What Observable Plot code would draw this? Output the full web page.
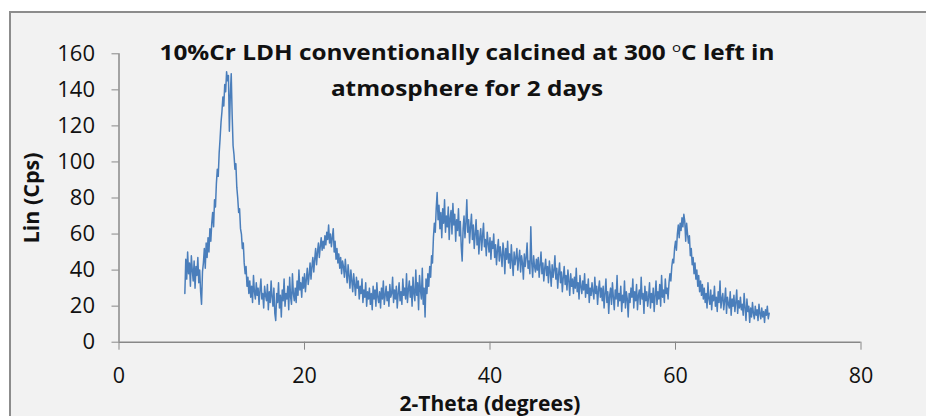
<!DOCTYPE html>
<html>
<head>
<meta charset="utf-8">
<script src="https://cdn.jsdelivr.net/npm/d3@7"></script>
<script src="https://cdn.jsdelivr.net/npm/@observablehq/plot@0.6"></script>
<style>
  html, body { margin: 0; padding: 0; background: #ffffff; }
  #chart { position: relative; width: 926px; height: 416px; overflow: hidden; background: #ffffff; font-family: "Open Sans", sans-serif; }
  #frame { position: absolute; left: 9px; top: 11px; width: 960px; height: 460px; border: 2px solid #8c8c8c; background: #f2f2f2; }
  #chart svg { position: absolute; left: 0; top: 0; }
</style>
</head>
<body>
<div id="chart"><div id="frame"></div></div>
<script>
// XRD scan of 10%Cr LDH, intensity (Cps) sampled every 0.1 degree 2-theta.
const stepAngle = 0.1;

// Each region of the scan: first 2-theta angle and its counts.
const region1Start = 7.1;   // low-angle shoulder
const region1 = [27, 46, 35, 50, 38, 44, 31, 48, 40, 34, 45, 30, 42, 37, 47, 33, 40, 28, 21, 39];
const region2Start = 9.1;   // rise of the (003) reflection
const region2 = [44, 52, 41, 55, 47, 58, 50, 63, 56, 66, 72, 64, 79, 75, 88, 96, 92, 105, 113];
const region3Start = 11.0;  // (003) maximum
const region3 = [122, 128, 136, 131, 143, 139, 150, 145, 148, 117, 137, 149, 126, 109];
const region4Start = 12.4;  // fall of the (003) reflection
const region4 = [104, 96, 99, 86, 80, 72, 74, 63, 60, 52, 55, 44, 38, 42, 31, 36, 27];
const region5Start = 14.1;  // background between peaks
const region5 = [
  34, 25, 31, 22, 37, 28, 24, 33, 26, 30,
  21, 29, 35, 24, 27, 19, 31, 26, 23, 32,
  18, 28, 22, 34, 25, 20, 30, 16, 12, 27,
  22, 33, 19, 26, 14, 29, 23, 35, 20, 27,
  24, 31, 18, 36, 25, 21, 38, 27, 23, 30,
  22, 34, 26, 40, 29
];
const region6Start = 19.6;  // rise of the (006) reflection
const region6 = [33, 25, 36, 30, 38, 28, 35, 41, 32, 37, 44, 35, 42, 47, 39, 46, 52, 43, 50, 55, 47, 53, 58, 51, 56];
const region7Start = 22.1;  // (006) maximum
const region7 = [52, 59, 54, 61, 57, 65, 55, 60, 53, 58, 63, 50, 56, 46, 52];
const region8Start = 23.6;  // fall of the (006) reflection
const region8 = [44, 49, 41, 47, 38, 45, 42, 36, 46, 39, 33, 43, 37, 30, 40, 34, 28, 38, 32, 26, 36, 30, 34, 24, 31, 27, 35, 22, 29, 25, 33, 20, 28, 24, 30];
const region9Start = 27.1;  // background before the broad band
const region9 = [
  21, 27, 18, 31, 24, 29, 20, 33, 25, 22,
  28, 19, 30, 24, 34, 21, 26, 31, 23, 28,
  20, 32, 25, 27, 36, 22, 29, 24, 31, 19,
  27, 33, 23, 28, 21, 35, 26, 30, 24, 38,
  22, 29, 34, 25, 31, 20, 36, 27, 23, 40,
  26, 33, 18, 37, 29, 24, 41, 21, 30, 14,
  35, 27, 38, 31, 42
];
const region10Start = 33.6; // steep edge of the broad band
const region10 = [36, 48, 44, 58, 66, 61, 74, 83];
const region11Start = 34.4; // top of the broad band
const region11 = [68, 76, 63, 72, 58, 74, 66, 79, 61, 70, 64, 75, 57, 69, 73, 60, 77, 65, 71, 56, 68, 62, 74, 59, 67, 53, 45, 63, 70, 58, 66, 79, 61, 68, 55, 64, 71];
const region12Start = 38.1; // slow decay of the band
const region12 = [
  57, 65, 52, 60, 68, 54, 62, 49, 58, 63,
  51, 59, 66, 53, 57, 48, 61, 55, 50, 58,
  46, 56, 52, 60, 47, 54, 43, 51, 57, 45,
  53, 48, 42, 55, 50, 38, 52, 46, 56, 44,
  49, 41, 54, 45, 37, 50, 43, 47, 52, 40,
  46, 51, 39, 48, 44, 35, 49, 42, 47, 55,
  41, 45, 38, 64, 44, 36, 48, 42, 39, 46
];
const region13Start = 45.1;
const region13 = [
  40, 47, 36, 43, 50, 38, 44, 34, 41, 46,
  37, 42, 33, 45, 39, 31, 43, 36, 40, 48,
  35, 41, 30, 38, 44, 33, 39, 28, 36, 42,
  32, 37, 29, 40, 34, 26, 38, 31, 35, 27,
  36, 30, 41, 28, 33, 24, 37, 31, 27, 34,
  29, 38, 25, 32, 27, 35, 22, 30, 26, 33,
  28, 24, 36, 27, 31, 21, 29, 34, 25, 30
];
const region14Start = 52.1; // flat background
const region14 = [
  23, 31, 19, 27, 35, 22, 28, 16, 26, 30,
  21, 33, 25, 18, 29, 24, 37, 20, 27, 23,
  31, 17, 26, 22, 34, 19, 28, 24, 14, 27,
  22, 30, 25, 35, 19, 28, 23, 32, 18, 26,
  29, 21, 36, 24, 27, 16, 31, 23, 28, 20,
  25, 33, 19, 27, 22, 30, 17, 26, 34, 21,
  28, 24, 32, 20, 37, 25, 29, 22, 35, 27,
  30, 24, 33
];
const region15Start = 59.4; // rise of the (110) reflection
const region15 = [38, 34, 42, 46, 44, 52, 56, 51, 60, 65, 58, 66];
const region16Start = 60.6; // (110) maximum
const region16 = [62, 69, 64, 71, 67, 56, 66, 60];
const region17Start = 61.4; // fall of the (110) reflection
const region17 = [55, 59, 48, 52, 43, 47, 38, 44, 35, 40, 31, 37, 28, 34, 26, 32, 24];
const region18Start = 63.1; // high-angle tail
const region18 = [
  30, 22, 27, 19, 33, 24, 21, 29, 18, 26,
  23, 31, 20, 25, 17, 28, 22, 34, 19, 24,
  27, 18, 23, 30, 16, 25, 21, 19, 28, 15,
  24, 20, 26, 17, 22, 29, 16, 23, 19, 25,
  18, 21, 15, 27, 19, 12, 24, 17, 20, 11,
  19, 14, 22, 16, 13, 20, 15, 18, 12, 21,
  16, 13, 19, 14, 17, 11, 18, 15, 20, 13, 16
];

const xTicks = [0, 20, 40, 60, 80];
const yTicks = [0, 20, 40, 60, 80, 100, 120, 140, 160];

const regions = [
  [region1Start, region1], [region2Start, region2], [region3Start, region3],
  [region4Start, region4], [region5Start, region5], [region6Start, region6],
  [region7Start, region7], [region8Start, region8], [region9Start, region9],
  [region10Start, region10], [region11Start, region11], [region12Start, region12],
  [region13Start, region13], [region14Start, region14], [region15Start, region15],
  [region16Start, region16], [region17Start, region17], [region18Start, region18]
];

// Flatten into {angle, counts} rows for the line mark.
const scan = regions.flatMap(([start, counts]) =>
  counts.map((c, i) => ({angle: +(start + i * stepAngle).toFixed(2), counts: c}))
);

const axisGray = "#888888";
const lineBlue = "#4a7ebb";

const chart = Plot.plot({
  width: 926,
  height: 416,
  marginLeft: 118.5,
  marginRight: 65.5,
  marginTop: 53.3,
  marginBottom: 74.3,
  style: {background: "transparent", fontFamily: "'Open Sans', sans-serif", fontSize: "22px", color: "#111", overflow: "visible"},
  x: {domain: [0, 80]},
  y: {domain: [0, 160]},
  marks: [
    Plot.ruleY([0], {stroke: axisGray, strokeWidth: 1.5}),
    Plot.ruleX([0], {stroke: axisGray, strokeWidth: 1.5}),
    Plot.axisX(xTicks, {tickSize: 8, tickPadding: 18, stroke: axisGray, fill: "#111", label: null, fontSize: 21.5}),
    Plot.axisY(yTicks, {tickSize: 7, tickPadding: 17, stroke: axisGray, fill: "#111", label: null, fontSize: 22}),
    Plot.line(scan, {x: "angle", y: "counts", stroke: lineBlue, strokeWidth: 1.5, strokeLinejoin: "round"}),
    Plot.text(["2-Theta (degrees)"], {frameAnchor: "bottom", dy: 68.5, lineAnchor: "bottom", textAnchor: "middle", fontWeight: "bold", fontSize: 21, fill: "#111"}),
    Plot.text(["Lin (Cps)"], {frameAnchor: "left", dx: -80, rotate: -90, lineAnchor: "bottom", textAnchor: "middle", fontWeight: "bold", fontSize: 21.5, fill: "#111"})
  ]
});

document.getElementById("chart").appendChild(chart);

// Two-line title with a superscript "o" in the temperature unit.
const svg = d3.select(chart);
const title = svg.append("g")
  .attr("transform", "translate(467,0) scale(1.16,1)")
  .attr("font-family", "'Open Sans', sans-serif")
  .attr("font-weight", "bold")
  .attr("font-size", 21)
  .attr("fill", "#111")
  .attr("text-anchor", "middle");
const line1 = title.append("text").attr("x", 0).attr("y", 60);
line1.append("tspan").text("10%Cr LDH conventionally calcined at 300 ");
line1.append("tspan").attr("font-size", 13).attr("dy", -8).attr("font-weight", "normal").text("o");
line1.append("tspan").attr("dy", 8).text("C left in");
title.append("text").attr("x", 0).attr("y", 96).text("atmosphere for 2 days");
</script>
</body>
</html>
